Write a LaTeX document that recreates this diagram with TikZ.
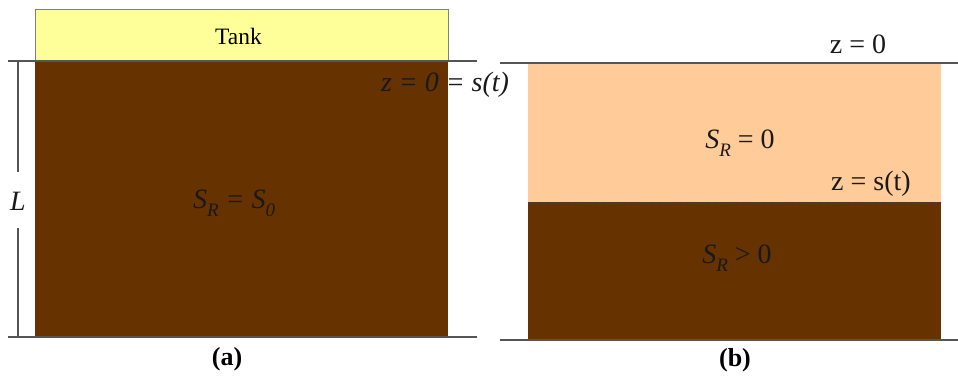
\documentclass[tikz,border=0pt]{standalone}
\usepackage{fontspec}
\setmainfont{Liberation Serif}
\definecolor{soil}{HTML}{663300}
\definecolor{tankyellow}{HTML}{FFFF99}
\definecolor{dryzone}{HTML}{FFCC99}
\definecolor{rule}{HTML}{555555}
\newcommand{\mysub}[1]{\raisebox{-0.28em}{\fontsize{19}{19}\selectfont #1}}
\begin{document}
\begin{tikzpicture}[x=1pt,y=-1pt,
  baseline,
  lbl/.style={inner sep=0pt, font=\fontsize{28}{32}\selectfont\itshape, text=black!90},
  uplbl/.style={inner sep=0pt, font=\fontsize{28}{32}\selectfont, text=black!90},
  caplbl/.style={inner sep=0pt, font=\fontsize{26}{30}\selectfont\bfseries},
  groundline/.style={draw=rule, line width=1.2pt},
  tankbox/.style={fill=tankyellow, draw=gray, line width=0.8pt}]
\useasboundingbox (0,0) rectangle (958,380);
% ---- panel (a)
\path[tankbox] (35,9) rectangle (448,61);
\node[inner sep=0pt, font=\fontsize{23.5}{27}\selectfont] (tank) at (238.5,36) {Tank};
\fill[soil] (35,61) rectangle (448,337);
\coordinate (a1) at (8,61);
\coordinate (a2) at (477,61);
\coordinate (a3) at (8,337);
\coordinate (a4) at (477,337);
\draw[groundline] (a1) -- (a2);
\draw[groundline] (a3) -- (a4);
\node[lbl] (L) at (18,201) {L};
\coordinate (Ltop) at (18,61);
\coordinate (Lbot) at (18,337);
\draw[rule, line width=1.2pt] (Ltop) -- ([yshift=20pt]L.north);
\draw[rule, line width=1.2pt] ([yshift=-18pt]L.south) -- (Lbot);
\node[lbl] (zs) at (445,85) {z = 0 = s(t)};
\node[lbl] (SRa) at (234,203) {S\mysub{R} = S\mysub{0}};
\node[caplbl] (capa) at (227,359) {(a)};
% ---- panel (b)
\fill[dryzone] (528,63) rectangle (941,202);
\fill[soil] (528,202) rectangle (941,339);
\coordinate (b1) at (500,63);
\coordinate (b2) at (958,63);
\coordinate (b3) at (500,340);
\coordinate (b4) at (958,340);
\coordinate (d1) at (528,202);
\coordinate (d2) at (941,202);
\draw[groundline] (b1) -- (b2);
\draw[groundline] (b3) -- (b4);
\draw[black!75, line width=1pt, dash pattern=on 4pt off 3pt] (d1) -- (d2);
\node[uplbl] (z0) at (858,44) {z = 0};
\node[uplbl] (SR0) at (740,143) {\itshape S\mysub{R}\upshape\ = 0};
\node[uplbl] (zst) at (871,184) {z = s(t)};
\node[uplbl] (SRp) at (737,258) {\itshape S\mysub{R}\upshape\ > 0};
\node[caplbl] (capb) at (735,360) {(b)};
\end{tikzpicture}
\end{document}
